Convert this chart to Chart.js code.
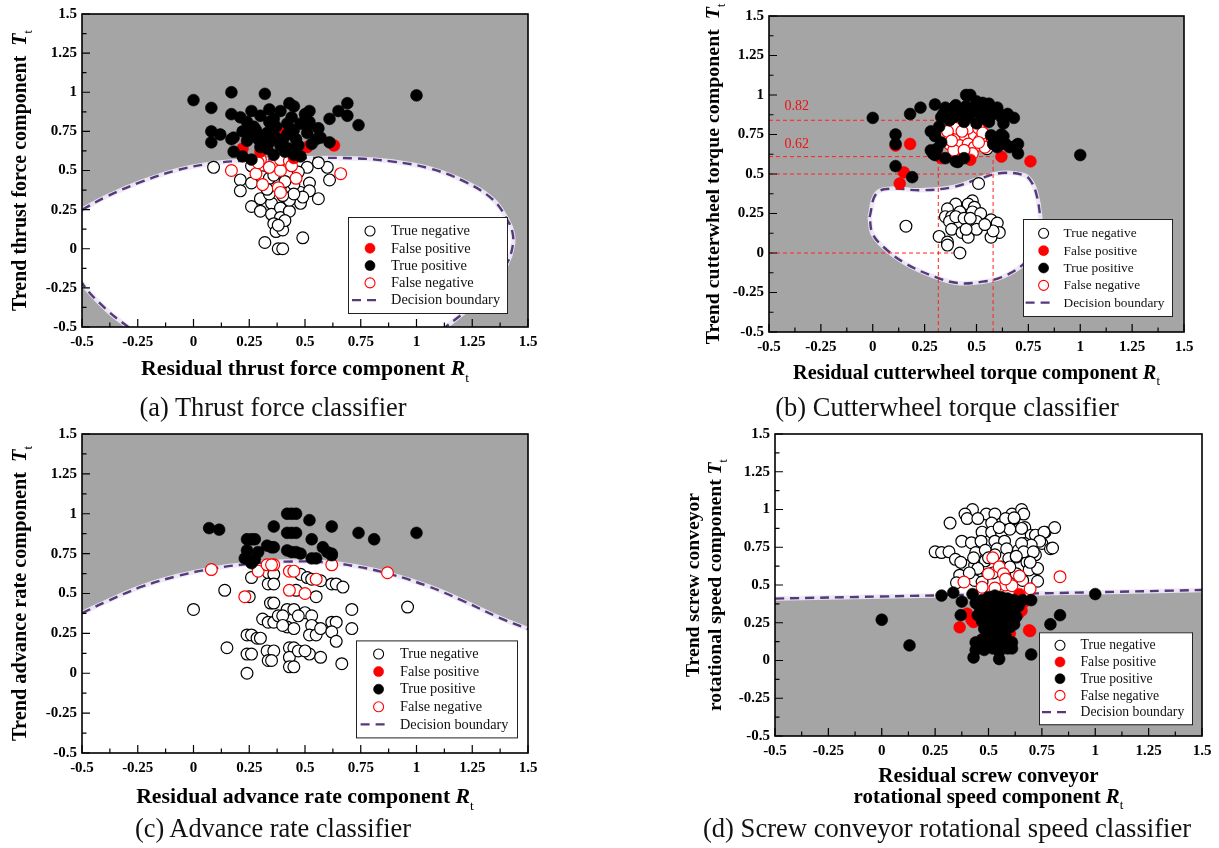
<!DOCTYPE html>
<html>
<head>
<meta charset="utf-8">
<script src="https://cdn.jsdelivr.net/npm/chart.js@4.4.1/dist/chart.umd.min.js"></script>
<style>
  body { margin: 0; width: 1219px; height: 848px; background: #fff; position: relative; overflow: hidden; }
  .panel { position: absolute; }
  .cap { position: absolute; white-space: nowrap; transform: translate(-50%, -50%); color: #111;
         font-family: 'Liberation Serif', 'Times New Roman', serif; }
</style>
</head>
<body>
<div class="panel" style="left:0;top:0"><canvas id="thrust" width="560" height="385"></canvas></div>
<div class="panel" style="left:610px;top:0"><canvas id="torque" width="609" height="385"></canvas></div>
<div class="panel" style="left:0;top:420px"><canvas id="rate" width="560" height="400"></canvas></div>
<div class="panel" style="left:610px;top:420px"><canvas id="screw" width="609" height="400"></canvas></div>
<div class="cap" id="capA" style="left:273px;top:407px">(a) Thrust force classifier</div>
<div class="cap" id="capB" style="left:947px;top:407px">(b) Cutterwheel torque classifier</div>
<div class="cap" id="capC" style="left:273px;top:828px">(c) Advance rate classifier</div>
<div class="cap" id="capD" style="left:947px;top:828px">(d) Screw conveyor rotational speed classifier</div>
<script>
const SERIF = "'Liberation Serif', 'Times New Roman', serif";

// axis ticks (same on every panel)
const tickValues = [-0.5, -0.25, 0, 0.25, 0.5, 0.75, 1, 1.25, 1.5];
const tickLabels = ['-0.5', '-0.25', '0', '0.25', '0.5', '0.75', '1', '1.25', '1.5'];
const legendLabels = ['True negative', 'False positive', 'True positive', 'False negative', 'Decision boundary'];

// (a) thrust force
const thrustTN = [[0.09,0.52],[0.21,0.44],[0.21,0.37],[0.26,0.42],[0.26,0.27],[0.30,0.32],[0.30,0.24],[0.35,0.29],[0.35,0.22],[0.39,0.26],[0.39,0.20],[0.43,0.24],[0.48,0.29],[0.48,0.36],[0.52,0.42],[0.52,0.37],[0.44,0.38],[0.43,0.31],[0.34,0.35],[0.56,0.32],[0.61,0.44],[0.60,0.52],[0.56,0.55],[0.51,0.52],[0.36,0.16],[0.39,0.14],[0.37,0.11],[0.40,0.12],[0.41,0.18],[0.38,0.15],[0.32,0.04],[0.38,0.00],[0.40,0.00],[0.49,0.07],[0.31,0.46],[0.34,0.45],[0.26,0.53],[0.47,0.49],[0.45,0.41],[0.33,0.38],[0.36,0.47],[0.41,0.43],[0.49,0.33],[0.45,0.35],[0.40,0.34]];
const thrustFP = [[0.22,0.64],[0.30,0.62],[0.51,0.65],[0.63,0.66],[0.35,0.76],[0.42,0.76],[0.25,0.78],[0.40,0.75],[0.45,0.58]];
const thrustTP = [[0.00,0.95],[0.17,1.00],[0.32,0.99],[0.08,0.90],[0.43,0.93],[0.45,0.91],[0.69,0.93],[0.65,0.88],[0.69,0.85],[0.74,0.79],[0.61,0.83],[0.52,0.88],[0.50,0.86],[0.34,0.89],[0.39,0.88],[0.26,0.88],[0.17,0.86],[0.21,0.84],[0.30,0.85],[0.24,0.81],[0.27,0.78],[0.34,0.81],[0.37,0.78],[0.42,0.80],[0.45,0.76],[0.48,0.80],[0.51,0.78],[0.52,0.81],[0.56,0.77],[0.08,0.75],[0.12,0.73],[0.17,0.70],[0.08,0.68],[0.22,0.75],[0.26,0.73],[0.29,0.70],[0.33,0.74],[0.37,0.71],[0.42,0.73],[0.46,0.70],[0.51,0.74],[0.55,0.70],[0.57,0.71],[0.61,0.68],[0.18,0.62],[0.22,0.59],[0.26,0.57],[0.33,0.64],[0.36,0.60],[0.39,0.66],[0.41,0.62],[0.43,0.64],[0.45,0.60],[0.48,0.59],[0.30,0.65],[0.34,0.68],[1.00,0.98],[0.18,0.71],[0.28,0.76],[0.40,0.69],[0.47,0.66],[0.53,0.67],[0.31,0.72],[0.24,0.69],[0.44,0.84],[0.36,0.83]];
const thrustFN = [[0.17,0.50],[0.28,0.48],[0.34,0.52],[0.39,0.50],[0.31,0.41],[0.38,0.39],[0.39,0.36],[0.46,0.45],[0.66,0.48],[0.30,0.57],[0.39,0.57],[0.43,0.56],[0.29,0.55],[0.44,0.53]];
const thrustBoundary = [[-0.5,0.249],[-0.389,0.334],[-0.229,0.43],[-0.068,0.504],[0.092,0.547],[0.252,0.564],[0.493,0.579],[0.733,0.577],[0.894,0.557],[1.054,0.515],[1.214,0.43],[1.343,0.313],[1.407,0.185],[1.431,0.10],[1.431,0.015],[1.407,-0.09],[1.343,-0.24],[1.247,-0.368],[1.134,-0.496],[1.0,-0.65],[0.7,-0.78],[0.4,-0.82],[0.1,-0.78],[-0.15,-0.66],[-0.293,-0.5],[-0.389,-0.39],[-0.5,-0.219],[-0.58,0.0],[-0.6,0.14],[-0.5,0.249]];

// (b) cutterwheel torque
const torqueTN = [[0.51,0.44],[0.48,0.33],[0.46,0.31],[0.40,0.31],[0.36,0.28],[0.42,0.26],[0.49,0.29],[0.35,0.23],[0.38,0.23],[0.48,0.26],[0.52,0.25],[0.57,0.21],[0.60,0.19],[0.61,0.13],[0.57,0.10],[0.37,0.20],[0.42,0.175],[0.46,0.175],[0.50,0.20],[0.38,0.15],[0.43,0.13],[0.46,0.10],[0.50,0.15],[0.32,0.105],[0.36,0.07],[0.36,0.05],[0.42,0.00],[0.40,0.23],[0.44,0.22],[0.16,0.17],[0.58,0.14],[0.45,0.15],[0.47,0.22],[0.54,0.18],[0.55,0.66]];
const torqueFP = [[0.62,0.61],[0.76,0.58],[0.47,0.59],[0.33,0.60],[0.18,0.69],[0.15,0.51],[0.13,0.44],[0.11,0.68]];
const torqueTP = [[0.00,0.855],[0.18,0.88],[0.23,0.92],[0.30,0.94],[0.11,0.75],[0.11,0.69],[0.11,0.55],[0.19,0.48],[0.40,0.58],[0.44,0.60],[1.00,0.62],[0.70,0.69],[0.70,0.63],[0.68,0.855],[0.65,0.88],[0.60,0.92],[0.45,1.00],[0.47,1.00],[0.50,0.96],[0.53,0.95],[0.56,0.945],[0.39,0.92],[0.34,0.88],[0.63,0.82],[0.28,0.77],[0.30,0.74],[0.28,0.65],[0.30,0.62],[0.58,0.69],[0.63,0.74],[0.66,0.67],[0.60,0.67],[0.35,0.92],[0.40,0.935],[0.45,0.93],[0.50,0.93],[0.55,0.92],[0.60,0.90],[0.64,0.87],[0.36,0.88],[0.42,0.89],[0.48,0.89],[0.52,0.88],[0.57,0.87],[0.33,0.86],[0.39,0.86],[0.46,0.86],[0.54,0.85],[0.62,0.86],[0.32,0.80],[0.30,0.745],[0.29,0.63],[0.41,0.576],[0.57,0.745],[0.62,0.75],[0.64,0.69],[0.69,0.68],[0.61,0.70],[0.37,0.84],[0.44,0.83],[0.50,0.82],[0.56,0.83],[0.33,0.70],[0.31,0.66],[0.35,0.60]];
const torqueFN = [[0.35,0.745],[0.37,0.69],[0.41,0.73],[0.445,0.74],[0.49,0.745],[0.52,0.72],[0.42,0.68],[0.46,0.69],[0.49,0.67],[0.48,0.63],[0.40,0.79],[0.46,0.79],[0.51,0.79],[0.39,0.65],[0.54,0.67],[0.36,0.77],[0.43,0.77],[0.53,0.76],[0.44,0.65],[0.51,0.70],[0.38,0.71]];
const torqueBoundary = [[-0.015,0.228],[0.017,0.376],[0.088,0.407],[0.23,0.397],[0.391,0.418],[0.515,0.471],[0.623,0.506],[0.729,0.492],[0.765,0.449],[0.79,0.365],[0.806,0.24],[0.81,0.15],[0.79,0.05],[0.729,-0.067],[0.623,-0.152],[0.515,-0.184],[0.409,-0.19],[0.302,-0.152],[0.159,-0.067],[0.052,0.038],[-0.001,0.123],[-0.015,0.228]];
const torqueGuides = [[[-0.5,0.84],[0.33,0.84]],[[-0.5,0.61],[0.58,0.61]],[[-0.5,0.50],[0.58,0.50]],[[-0.5,0.00],[0.39,0.00]],[[0.316,-0.5],[0.316,0.84]],[[0.58,-0.5],[0.58,0.61]]];
const torqueGuideText = ['0.82', '0.62'];
const torqueGuideTextAt = [[-0.425,0.93],[-0.425,0.688]];

// (c) advance rate
const rateTN = [[0.00,0.40],[0.14,0.52],[0.15,0.16],[0.24,0.00],[0.26,0.60],[0.25,0.48],[0.335,0.63],[0.36,0.62],[0.335,0.56],[0.36,0.56],[0.345,0.44],[0.36,0.44],[0.24,0.24],[0.26,0.24],[0.285,0.22],[0.30,0.22],[0.24,0.12],[0.26,0.12],[0.33,0.14],[0.36,0.14],[0.335,0.08],[0.35,0.08],[0.31,0.34],[0.335,0.32],[0.36,0.32],[0.38,0.36],[0.42,0.40],[0.45,0.40],[0.42,0.29],[0.45,0.28],[0.50,0.38],[0.53,0.36],[0.43,0.16],[0.45,0.16],[0.43,0.10],[0.43,0.04],[0.45,0.04],[0.47,0.14],[0.52,0.12],[0.57,0.10],[0.55,0.28],[0.53,0.30],[0.52,0.24],[0.55,0.24],[0.57,0.28],[0.62,0.32],[0.64,0.32],[0.62,0.26],[0.64,0.20],[0.665,0.06],[0.71,0.40],[0.71,0.28],[0.96,0.415],[0.48,0.62],[0.51,0.60],[0.53,0.59],[0.57,0.58],[0.62,0.56],[0.64,0.56],[0.67,0.54],[0.55,0.48],[0.46,0.52],[0.40,0.36],[0.47,0.36],[0.40,0.30],[0.50,0.14]];
const rateFP = [];
const rateTP = [[0.07,0.91],[0.115,0.90],[0.42,1.00],[0.44,1.00],[0.46,1.00],[0.52,0.96],[0.62,0.92],[0.74,0.88],[0.81,0.84],[1.00,0.88],[0.36,0.92],[0.42,0.88],[0.44,0.88],[0.46,0.88],[0.53,0.84],[0.24,0.84],[0.26,0.84],[0.275,0.84],[0.33,0.80],[0.35,0.79],[0.36,0.79],[0.24,0.77],[0.29,0.76],[0.23,0.72],[0.275,0.715],[0.42,0.77],[0.44,0.76],[0.46,0.76],[0.48,0.75],[0.53,0.72],[0.55,0.72],[0.58,0.79],[0.60,0.76],[0.62,0.75],[0.62,0.74],[0.26,0.69]];
const rateFN = [[0.08,0.65],[0.29,0.64],[0.33,0.68],[0.36,0.68],[0.43,0.64],[0.45,0.64],[0.55,0.59],[0.62,0.68],[0.43,0.52],[0.50,0.50],[0.23,0.48],[0.87,0.63],[0.35,0.68]];
const rateBoundary = [[-0.5,0.377],[-0.389,0.45],[-0.229,0.544],[-0.068,0.611],[0.092,0.657],[0.252,0.686],[0.412,0.70],[0.573,0.697],[0.733,0.669],[0.894,0.617],[1.054,0.544],[1.214,0.45],[1.375,0.346],[1.5,0.277]];

// (d) screw conveyor rotational speed
const screwTN = [[0.32,0.91],[0.425,1.00],[0.39,0.97],[0.49,0.97],[0.53,0.97],[0.61,0.97],[0.655,1.00],[0.665,0.97],[0.40,0.94],[0.45,0.94],[0.515,0.91],[0.58,0.94],[0.62,0.94],[0.47,0.85],[0.515,0.85],[0.56,0.85],[0.60,0.87],[0.67,0.88],[0.70,0.83],[0.765,0.85],[0.81,0.88],[0.375,0.79],[0.42,0.78],[0.465,0.79],[0.53,0.79],[0.575,0.79],[0.67,0.775],[0.75,0.775],[0.25,0.72],[0.28,0.715],[0.315,0.72],[0.345,0.67],[0.44,0.715],[0.485,0.73],[0.54,0.74],[0.585,0.74],[0.64,0.73],[0.69,0.72],[0.72,0.70],[0.79,0.74],[0.39,0.63],[0.435,0.63],[0.485,0.66],[0.595,0.675],[0.63,0.685],[0.68,0.65],[0.725,0.61],[0.365,0.565],[0.445,0.555],[0.63,0.575],[0.69,0.60],[0.73,0.525],[0.35,0.515],[0.435,0.53],[0.62,0.945],[0.655,0.875],[0.72,0.83],[0.76,0.85],[0.74,0.79],[0.80,0.745],[0.70,0.765],[0.655,0.775],[0.665,0.72],[0.63,0.69],[0.71,0.72],[0.73,0.61],[0.695,0.65],[0.55,0.88],[0.50,0.68],[0.56,0.62],[0.45,0.61],[0.53,0.70],[0.60,0.62],[0.41,0.58],[0.47,0.52],[0.52,0.58],[0.66,0.53],[0.37,0.65],[0.43,0.68]];
const screwFP = [[0.365,0.22],[0.40,0.31],[0.42,0.27],[0.64,0.31],[0.645,0.44],[0.69,0.20],[0.60,0.18],[0.43,0.255],[0.665,0.385],[0.655,0.33],[0.695,0.195]];
const screwTP = [[0.00,0.27],[0.13,0.10],[0.28,0.43],[0.335,0.45],[0.375,0.39],[0.425,0.44],[0.37,0.30],[0.43,0.02],[0.55,0.01],[0.70,0.04],[0.44,0.07],[0.48,0.07],[0.59,0.08],[0.61,0.08],[0.70,0.40],[0.835,0.30],[0.79,0.24],[1.00,0.44],[0.44,0.12],[0.47,0.40],[0.50,0.42],[0.53,0.43],[0.56,0.42],[0.59,0.41],[0.62,0.40],[0.46,0.35],[0.49,0.37],[0.52,0.38],[0.55,0.37],[0.58,0.36],[0.61,0.35],[0.64,0.36],[0.45,0.30],[0.48,0.31],[0.51,0.32],[0.54,0.33],[0.57,0.31],[0.60,0.30],[0.63,0.29],[0.47,0.26],[0.50,0.27],[0.53,0.28],[0.56,0.26],[0.59,0.25],[0.62,0.24],[0.48,0.21],[0.51,0.22],[0.54,0.23],[0.57,0.21],[0.60,0.22],[0.49,0.16],[0.52,0.17],[0.55,0.18],[0.58,0.16],[0.61,0.12],[0.50,0.12],[0.53,0.13],[0.56,0.12],[0.52,0.08],[0.55,0.06],[0.58,0.10],[0.47,0.14],[0.60,0.38],[0.66,0.40],[0.44,0.38],[0.53,0.40],[0.56,0.35]];
const screwFN = [[0.52,0.68],[0.55,0.62],[0.50,0.575],[0.57,0.575],[0.645,0.56],[0.385,0.52],[0.47,0.485],[0.58,0.50],[0.61,0.495],[0.695,0.475],[0.835,0.555],[0.53,0.48],[0.58,0.54]];
const screwBoundary = [[-0.5,0.41],[0,0.424],[0.5,0.438],[1.0,0.452],[1.5,0.467]];

const GREY = '#a5a5a5';
const PURPLE = '#55397a';
const RADIUS = 5.9;

// measure helper for fitting titles to the reference widths
const mctx = document.createElement('canvas').getContext('2d');
function titleParts(segs, size) {
  const parts = [{ t: segs[0], f: 'bold ' + size + 'px ' + SERIF, dy: 0 }];
  if (segs[1]) {
    parts.push({ t: segs[1], f: 'italic bold ' + size + 'px ' + SERIF, dy: 0 });
    parts.push({ t: 't', f: (size * 0.62).toFixed(1) + 'px ' + SERIF, dy: size * 0.3 });
  }
  return parts;
}
function partsWidth(ctx, parts) {
  let w = 0;
  parts.forEach(p => { ctx.font = p.f; p.w = ctx.measureText(p.t).width; w += p.w; });
  return w;
}
function fitTitle(segs, target) {
  return 100 * target / partsWidth(mctx, titleParts(segs, 100));
}
function drawTitle(ctx, segs, size, cx, cy) {
  const parts = titleParts(segs, size);
  let x = -partsWidth(ctx, parts) / 2;
  ctx.save();
  ctx.translate(cx, cy);
  ctx.textAlign = 'left';
  ctx.textBaseline = 'alphabetic';
  ctx.fillStyle = '#000';
  parts.forEach(p => { ctx.font = p.f; ctx.fillText(p.t, x, size * 0.34 + p.dy); x += p.w; });
  ctx.restore();
}
function drawTitleV(ctx, segs, size, cx, cy) {
  ctx.save();
  ctx.translate(cx, cy);
  ctx.rotate(-Math.PI / 2);
  drawTitle(ctx, segs, size, 0, 0);
  ctx.restore();
}

const pts = arr => arr.map(p => ({ x: p[0], y: p[1] }));

function classSets(p) {
  return [
    { label: legendLabels[0], data: pts(p.tn), backgroundColor: '#fff', borderColor: '#000', borderWidth: 1.2, pointRadius: RADIUS, order: 4, legendRow: 0 },
    { label: legendLabels[1], data: pts(p.fp), backgroundColor: '#f00', borderColor: '#f00', borderWidth: 0.6, pointRadius: RADIUS, order: 2, legendRow: 1 },
    { label: legendLabels[2], data: pts(p.tp), backgroundColor: '#000', borderColor: '#000', borderWidth: 0.6, pointRadius: RADIUS, order: 1, legendRow: 2 },
    { label: legendLabels[3], data: pts(p.fn), backgroundColor: '#fff', borderColor: '#f00', borderWidth: 1.2, pointRadius: RADIUS, order: 3, legendRow: 3 }
  ];
}
function boundarySets(line, fillMode) {
  return [
    { label: 'halo', data: pts(line), showLine: true, pointRadius: 0, borderColor: 'rgba(236,232,246,0.95)', borderWidth: 4.5,
      fill: fillMode, backgroundColor: '#fff', order: 7, tension: 0.4, clip: 0 },
    { label: legendLabels[4], data: pts(line), showLine: true, pointRadius: 0, borderColor: PURPLE, borderWidth: 2.4,
      borderDash: [9, 6], fill: false, order: 6, tension: 0.4, clip: 0, legendRow: 4 }
  ];
}
function guideSet(line) {
  return { label: 'guide', data: pts(line), showLine: true, pointRadius: 0, borderColor: '#f22', borderWidth: 1,
           borderDash: [4, 3], fill: false, order: 5, clip: 0 };
}

function axis(pos, size) {
  return {
    type: 'linear', position: pos, min: -0.5, max: 1.5,
    grid: { display: false, drawTicks: false }, border: { display: false },
    afterBuildTicks: s => { s.ticks = tickValues.map(v => ({ value: v })); },
    ticks: {
      color: '#000', font: { family: SERIF, size: 15, weight: 'bold' }, padding: pos === 'left' ? 5 : 6,
      autoSkip: false, maxRotation: 0,
      callback: v => { const i = tickValues.indexOf(v); return i < 0 ? '' : tickLabels[i]; }
    },
    afterFit: s => { if (pos === 'left') s.width = size; else s.height = size; }
  };
}

function framePlugin(p) {
  return {
    id: 'frame',
    beforeDraw(chart) {
      const a = chart.chartArea, ctx = chart.ctx;
      ctx.save();
      ctx.fillStyle = GREY;
      ctx.fillRect(a.left, a.top, a.right - a.left, a.bottom - a.top);
      ctx.restore();
    },
    afterDatasetsDraw(chart) {
      const a = chart.chartArea, ctx = chart.ctx, xs = chart.scales.x, ys = chart.scales.y;
      ctx.save();
      ctx.strokeStyle = '#000';
      ctx.lineWidth = 1.2;
      for (let i = 0; i < tickValues.length; i++) {
        const v = tickValues[i];
        const mid = i < tickValues.length - 1 ? (v + tickValues[i + 1]) / 2 : null;
        [[v, 8], [mid, 4.5]].forEach(([t, len]) => {
          if (t === null) return;
          const py = ys.getPixelForValue(t), px = xs.getPixelForValue(t);
          ctx.beginPath();
          ctx.moveTo(a.left, py); ctx.lineTo(a.left + len, py);
          ctx.moveTo(px, a.bottom); ctx.lineTo(px, a.bottom - len);
          ctx.stroke();
        });
      }
      ctx.lineWidth = 1.6;
      ctx.strokeRect(a.left, a.top, a.right - a.left, a.bottom - a.top);
      // guide labels (panel b)
      if (p.guideText) {
        ctx.fillStyle = '#e11';
        ctx.font = '14px ' + SERIF;
        ctx.textAlign = 'left';
        ctx.textBaseline = 'middle';
        p.guideText.forEach((t, i) => {
          ctx.fillText(t, xs.getPixelForValue(p.guideTextAt[i][0]), ys.getPixelForValue(p.guideTextAt[i][1]));
        });
      }
      ctx.restore();
    },
    afterDraw(chart) {
      const a = chart.chartArea, ctx = chart.ctx, L = p.legend;
      // legend box inside the plot
      const left = a.right - L.right - L.w, top = a.bottom - L.bottom - L.h;
      ctx.save();
      ctx.fillStyle = '#fff';
      ctx.fillRect(left, top, L.w, L.h);
      ctx.strokeStyle = '#222';
      ctx.lineWidth = 1;
      ctx.strokeRect(left + 0.5, top + 0.5, L.w, L.h);
      ctx.font = L.font + 'px ' + SERIF;
      ctx.textAlign = 'left';
      ctx.textBaseline = 'middle';
      chart.data.datasets.filter(d => d.legendRow !== undefined).forEach(d => {
        const y = top + L.row0 + d.legendRow * L.step;
        if (d.showLine) {
          ctx.strokeStyle = d.borderColor;
          ctx.lineWidth = 2.2;
          ctx.setLineDash([9, 6]);
          ctx.beginPath();
          ctx.moveTo(left + L.mx - 18, y); ctx.lineTo(left + L.mx + 9, y);
          ctx.stroke();
          ctx.setLineDash([]);
        } else {
          ctx.beginPath();
          ctx.arc(left + L.mx, y, 5, 0, Math.PI * 2);
          ctx.fillStyle = d.backgroundColor;
          ctx.fill();
          ctx.strokeStyle = d.borderColor;
          ctx.lineWidth = d.borderWidth > 1 ? 1.1 : 0.6;
          ctx.stroke();
        }
        ctx.fillStyle = '#111';
        ctx.fillText(d.label, left + L.tx, y + 0.5);
      });
      ctx.restore();
      // axis titles
      const xt = p.xTitle, yt = p.yTitle;
      const xs = fitTitle(xt.lines[xt.lines.length - 1], xt.width);
      xt.lines.forEach((segs, i) => drawTitle(ctx, segs, xs, (a.left + a.right) / 2, a.bottom + xt.offs[i]));
      const ysz = fitTitle(yt.lines[yt.lines.length - 1], yt.width);
      yt.lines.forEach((segs, i) => drawTitleV(ctx, segs, ysz, a.left - yt.offs[i], (a.top + a.bottom) / 2));
    }
  };
}

const panels = [
  { id: 'thrust', tn: thrustTN, fp: thrustFP, tp: thrustTP, fn: thrustFN, boundary: thrustBoundary, fill: 'shape',
    pad: { top: 14, right: 32, left: 0, bottom: 0 }, yW: 82, xH: 58,
    xTitle: { lines: [['Residual thrust force component ', 'R']], offs: [41], width: 328 },
    yTitle: { lines: [['Trend thrust force component  ', 'T']], offs: [63], width: 281 },
    legend: { right: 21, bottom: 14, w: 159, h: 96, mx: 22, tx: 43, row0: 14, step: 17.3, font: 14.4 } },
  { id: 'torque', tn: torqueTN, fp: torqueFP, tp: torqueTP, fn: torqueFN, boundary: torqueBoundary, fill: 'shape',
    guides: torqueGuides, guideText: torqueGuideText, guideTextAt: torqueGuideTextAt,
    pad: { top: 16, right: 35, left: 0, bottom: 0 }, yW: 159, xH: 53,
    xTitle: { lines: [['Residual cutterwheel torque component ', 'R']], offs: [40], width: 367 },
    yTitle: { lines: [['Trend cutterwheel torque component  ', 'T']], offs: [57], width: 341 },
    legend: { right: 12, bottom: 16, w: 149, h: 97, mx: 20.6, tx: 40.6, row0: 14.3, step: 17.35, font: 13.3 } },
  { id: 'rate', tn: rateTN, fp: rateFP, tp: rateTP, fn: rateFN, boundary: rateBoundary, fill: 'start',
    pad: { top: 14, right: 32, left: 0, bottom: 0 }, yW: 82, xH: 67,
    xTitle: { lines: [['Residual advance rate component ', 'R']], offs: [43], width: 338 },
    yTitle: { lines: [['Trend advance rate component  ', 'T']], offs: [63], width: 295 },
    legend: { right: 11, bottom: 15.6, w: 161, h: 97, mx: 22.6, tx: 44, row0: 13.6, step: 17.6, font: 14.3 } },
  { id: 'screw', tn: screwTN, fp: screwFP, tp: screwTP, fn: screwFN, boundary: screwBoundary, fill: 'end',
    pad: { top: 14, right: 17, left: 0, bottom: 0 }, yW: 165, xH: 84,
    xTitle: { lines: [['Residual screw conveyor'], ['rotational speed component ', 'R']], offs: [39, 60], width: 270 },
    yTitle: { lines: [['Trend screw conveyor'], ['rotational speed component ', 'T']], offs: [83, 61], width: 252 },
    legend: { right: 10, bottom: 11.7, w: 153, h: 92, mx: 21, tx: 41.5, row0: 13, step: 16.7, font: 13.7 } }
];

panels.forEach(p => {
  const datasets = [...classSets(p), ...boundarySets(p.boundary, p.fill), ...(p.guides || []).map(guideSet)];
  new Chart(document.getElementById(p.id), {
    type: 'scatter',
    data: { datasets },
    options: {
      responsive: false, animation: false, events: [],
      layout: { padding: p.pad },
      plugins: { legend: { display: false }, tooltip: { enabled: false } },
      scales: { x: axis('bottom', p.xH), y: axis('left', p.yW) }
    },
    plugins: [framePlugin(p)]
  });
});

// captions sized to the reference widths
[['capA', 268], ['capB', 344], ['capC', 278], ['capD', 489]].forEach(([id, w]) => {
  const el = document.getElementById(id);
  mctx.font = '100px ' + SERIF;
  el.style.fontSize = (100 * w / mctx.measureText(el.textContent).width).toFixed(1) + 'px';
});
</script>
</body>
</html>
